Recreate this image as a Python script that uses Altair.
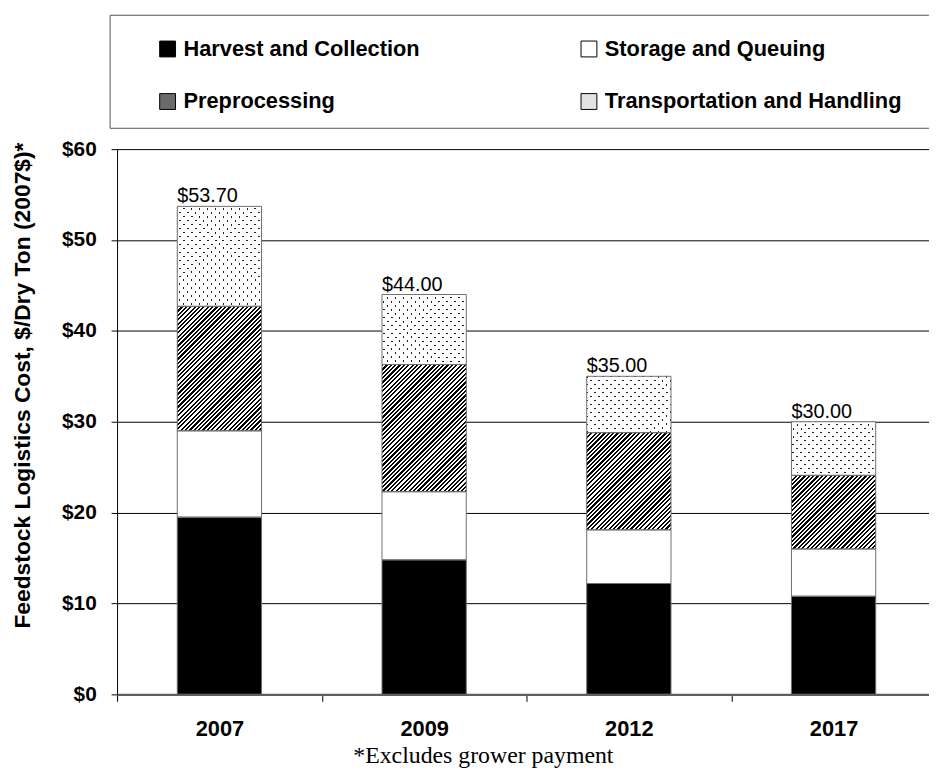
import altair as alt
import pandas as pd

# ---------------- data ----------------
years = ["2007", "2009", "2012", "2017"]
series = ["Harvest and Collection", "Storage and Queuing",
          "Preprocessing", "Transportation and Handling"]
harvest = [19.5, 14.8, 12.2, 10.8]
storage = [9.5, 7.5, 5.9, 5.2]
preprocessing = [13.7, 14.0, 10.7, 8.1]
transport = [11.0, 7.7, 6.2, 5.9]
y_ticks = [0, 10, 20, 30, 40, 50, 60]
legend_fills = ["#000000", "#ffffff", "#6a6a6a", "#e2e2e2"]
# legend grid is filled column by column: this order gives
# row 1 = Harvest, Storage ; row 2 = Preprocessing, Transportation
legend_order = [0, 2, 1, 3]

# ---------------- layout constants ----------------
PLOT_W = 819
BAND_RANGE = 826
PLOT_H = 550
Y_MAX = 60
BAR_W = 85
FONT = "Liberation Sans"

rows = []
for i, yr in enumerate(years):
    lo = 0.0
    for s, vals in zip(series, [harvest, storage, preprocessing, transport]):
        v = vals[i]
        rows.append({"year": yr, "series": s, "value": v,
                     "lo": round(lo, 3), "hi": round(lo + v, 3)})
        lo += v
df = pd.DataFrame(rows)

totals = [round(a + b + c + d, 2) for a, b, c, d in
          zip(harvest, storage, preprocessing, transport)]
tot = pd.DataFrame({"year": years, "total": totals,
                    "label": ["$%.2f" % t for t in totals]})


def stripes(w, h, period, on_frac, on_color, off_color, rising=True):
    """linear gradient that draws 45-degree stripes inside a w x h box"""
    L = w + h
    D = w * w + h * h
    p = w * L / D
    q = h * L / D
    stops = []
    k = 0
    while k * period < L:
        a = k * period / L
        b = min(1.0, (k + on_frac) * period / L)
        c = min(1.0, (k + 1) * period / L)
        stops += [{"offset": round(a, 5), "color": on_color},
                  {"offset": round(b, 5), "color": on_color},
                  {"offset": round(b, 5), "color": off_color},
                  {"offset": round(c, 5), "color": off_color}]
        k += 1
    if rising:
        g = {"x1": 0, "y1": 0, "x2": round(p, 5), "y2": round(q, 5)}
    else:
        g = {"x1": 0, "y1": 1, "x2": round(p, 5), "y2": round(1 - q, 5)}
    g.update({"gradient": "linear", "stops": stops})
    return g


y_scale = alt.Scale(domain=[0, Y_MAX], nice=False, zero=True)
x_scale = alt.Scale(range=[0, BAND_RANGE], paddingInner=0, paddingOuter=0)

x_axis = alt.Axis(title=None, labelFont=FONT, labelFontWeight="bold",
                  labelFontSize=22, labelColor="black", labelPadding=17,
                  labelAngle=0, ticks=True, tickBand="extent", tickSize=7,
                  tickColor="black", tickWidth=1, domainColor="#5f5f5f",
                  domainWidth=2.5, grid=False, zindex=1)
y_axis = alt.Axis(title="Feedstock Logistics Cost, $/Dry Ton (2007$)*",
                  values=y_ticks, labelExpr="'$' + datum.value",
                  labelFont=FONT, labelFontWeight="bold", labelFontSize=21,
                  labelColor="black", labelPadding=15, tickSize=6,
                  tickColor="black", tickWidth=1, domainColor="black",
                  domainWidth=1, grid=True, gridColor="black", gridWidth=1,
                  titleFont=FONT, titleFontWeight="bold", titleFontSize=23,
                  titleColor="black", titleBaseline="middle", titleX=-95,
                  titleY=238)

x_enc = alt.X("year:N", sort=years, scale=x_scale, axis=x_axis)
y_enc = alt.Y("lo:Q", scale=y_scale, axis=y_axis)

fill_enc = alt.Fill(
    "series:N",
    scale=alt.Scale(domain=[series[k] for k in legend_order],
                    range=[legend_fills[k] for k in legend_order]),
    legend=alt.Legend(title=None, orient="none", legendX=40, legendY=-112,
                      columns=2, columnPadding=159, rowPadding=31,
                      symbolType="square", symbolSize=256,
                      symbolStrokeColor="black", symbolStrokeWidth=1,
                      labelFont=FONT, labelFontWeight="bold",
                      labelFontSize=22, labelColor="black", labelOffset=5,
                      labelLimit=0, padding=0),
)

base = alt.Chart(df).mark_bar(width=BAR_W, strokeWidth=0).encode(
    x=x_enc, y=y_enc, y2="hi:Q", fill=fill_enc)

layers = [base]
for i, yr in enumerate(years):
    # diagonal hatch for preprocessing
    h = preprocessing[i] * PLOT_H / Y_MAX
    g = stripes(BAR_W, h, 4.4, 0.5, "#000000", "#ffffff", rising=True)
    layers.append(
        alt.Chart(df).transform_filter(
            (alt.datum.year == yr) & (alt.datum.series == series[2])
        ).mark_bar(width=BAR_W, fill=g, strokeWidth=0).encode(
            x=x_enc, y=y_enc, y2="hi:Q"))
    # dotted fill for transportation: two crossed stripe layers
    h = transport[i] * PLOT_H / Y_MAX
    ga = stripes(BAR_W, h, 8, 0.25, "#1e1e1e", "#ffffff", rising=True)
    gb = stripes(BAR_W, h, 8, 0.25, "rgba(255,255,255,0)", "#ffffff",
                 rising=False)
    for gg in (ga, gb):
        layers.append(
            alt.Chart(df).transform_filter(
                (alt.datum.year == yr) & (alt.datum.series == series[3])
            ).mark_bar(width=BAR_W, fill=gg, strokeWidth=0).encode(
                x=x_enc, y=y_enc, y2="hi:Q"))

outline = alt.Chart(df).mark_bar(width=BAR_W, fillOpacity=0,
                                 stroke="#6f6f6f", strokeWidth=1).encode(
    x=x_enc, y=y_enc, y2="hi:Q")
layers.append(outline)

labels = alt.Chart(tot).mark_text(align="left", baseline="alphabetic",
                                  dx=-BAR_W / 2, dy=-4, font=FONT,
                                  fontSize=20, color="black").encode(
    x=x_enc, y=alt.Y("total:Q", scale=y_scale, axis=y_axis), text="label:N")
layers.append(labels)

legend_box = alt.Chart(pd.DataFrame({"k": [0]})).mark_rect(
    fillOpacity=0, stroke="#555555", strokeWidth=1).encode(
    x=alt.value(-7), x2=alt.value(840), y=alt.value(-135), y2=alt.value(-21))
layers.append(legend_box)

chart = alt.layer(*layers).properties(
    width=PLOT_W, height=PLOT_H,
    autosize=alt.AutoSizeParams(type="none"),
    padding={"left": 110, "top": 139, "right": 0, "bottom": 80},
    background="white",
    title=alt.TitleParams(text="*Excludes grower payment", orient="bottom",
                          anchor="middle", font="Liberation Serif",
                          fontSize=24, fontWeight="normal", color="black",
                          offset=5, dx=-40),
).configure_view(strokeWidth=0)

chart.save("out.html", embed_options={"renderer": "svg", "actions": False})
